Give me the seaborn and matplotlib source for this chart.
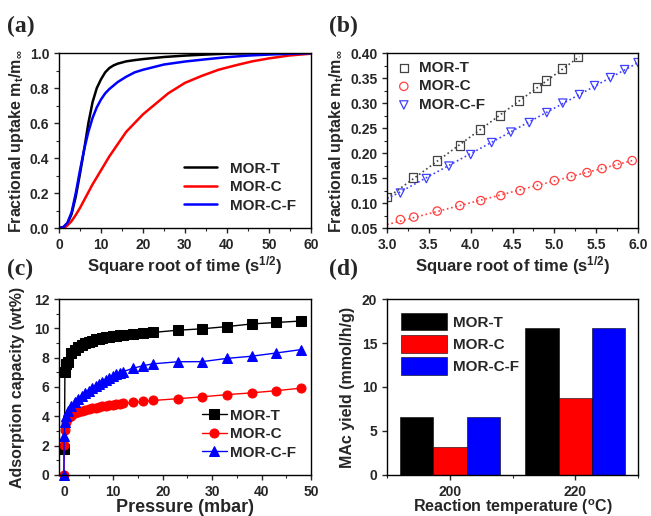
import numpy as np
import pandas as pd
import seaborn as sns
import matplotlib.pyplot as plt
from matplotlib.ticker import MultipleLocator

# (a) uptake curves
a_x_T = [0, 1, 2, 3, 4, 5, 6, 7, 8, 9, 10, 11, 12, 13, 14, 16, 18, 20, 25, 30, 35, 40, 50, 60]
a_y_T = [0, 0.005, 0.025, 0.08, 0.18, 0.31, 0.45, 0.6, 0.72, 0.8, 0.85, 0.89, 0.915, 0.93, 0.94,
         0.953, 0.96, 0.966, 0.978, 0.986, 0.992, 0.997, 1.0, 1.0]
a_x_C = [0, 1, 1.5, 2, 3, 4, 5, 6, 7, 8, 9, 10, 12, 14, 16, 18, 20, 23, 26, 30, 34, 38, 42, 46, 50, 55, 60]
a_y_C = [0, 0.002, 0.006, 0.015, 0.04, 0.075, 0.115, 0.16, 0.205, 0.25, 0.29, 0.33, 0.41, 0.48, 0.55,
         0.6, 0.65, 0.71, 0.77, 0.83, 0.87, 0.905, 0.93, 0.953, 0.97, 0.987, 0.997]
a_x_F = [0, 1, 2, 2.5, 3, 4, 5, 6, 7, 8, 9, 10, 11, 12, 13, 14, 16, 18, 20, 25, 30, 35, 40, 45, 50, 55, 60]
a_y_F = [0, 0.005, 0.03, 0.06, 0.09, 0.2, 0.33, 0.45, 0.55, 0.63, 0.69, 0.735, 0.77, 0.795, 0.815,
         0.835, 0.865, 0.89, 0.905, 0.935, 0.952, 0.965, 0.977, 0.986, 0.992, 0.996, 1.0]

# (b) initial uptake points + linear fits
b_x_T = [3.0, 3.31, 3.60, 3.87, 4.11, 4.35, 4.58, 4.79, 4.90, 5.09, 5.28]
b_y_T = [0.112, 0.151, 0.185, 0.215, 0.247, 0.275, 0.305, 0.331, 0.345, 0.369, 0.392]
b_x_C = [3.16, 3.32, 3.60, 3.87, 4.12, 4.36, 4.59, 4.80, 5.00, 5.20, 5.39, 5.57, 5.75, 5.93]
b_y_C = [0.067, 0.072, 0.084, 0.095, 0.105, 0.115, 0.125, 0.135, 0.145, 0.153, 0.161, 0.169, 0.177, 0.185]
b_x_F = [3.16, 3.47, 3.74, 4.0, 4.25, 4.48, 4.70, 4.91, 5.10, 5.30, 5.48, 5.67, 5.84, 6.0]
b_y_F = [0.12, 0.149, 0.174, 0.197, 0.221, 0.242, 0.261, 0.281, 0.30, 0.317, 0.335, 0.351, 0.367, 0.381]
fit_x_T = [3.0, 5.3]
fit_y_T = [0.11, 0.393]
fit_x_C = [3.0, 5.93]
fit_y_C = [0.057, 0.185]
fit_x_F = [3.0, 6.0]
fit_y_F = [0.108, 0.381]

# (c) isotherms
c_p_T = [0.1, 0.2, 0.5, 0.9, 1.5, 2.2, 2.9, 3.6, 4.3, 5.0, 5.7, 6.4, 7.1, 7.8, 8.5, 9.2, 9.9, 10.6,
         11.3, 12, 14, 16, 18, 23, 28, 33, 38, 43, 48]
c_y_T = [1.75, 7.0, 7.55, 7.7, 8.3, 8.55, 8.72, 8.87, 8.98, 9.08, 9.17, 9.24, 9.3, 9.36, 9.4, 9.44,
         9.47, 9.5, 9.53, 9.55, 9.6, 9.65, 9.72, 9.87, 9.97, 10.12, 10.3, 10.4, 10.5]
c_p = [0, 0.05, 0.2, 0.5, 0.9, 1.5, 2.2, 2.9, 3.6, 4.3, 5.0, 5.7, 6.4, 7.1, 7.8, 8.5, 9.2, 9.9, 10.6,
       11.3, 12, 14, 16, 18, 23, 28, 33, 38, 43, 48]
c_y_C = [0, 2.05, 3.05, 3.6, 3.86, 4.05, 4.2, 4.3, 4.38, 4.45, 4.5, 4.56, 4.6, 4.65, 4.68, 4.72, 4.75,
         4.78, 4.82, 4.85, 4.88, 4.95, 5.02, 5.08, 5.2, 5.33, 5.48, 5.6, 5.75, 5.92]
c_y_F = [0, 2.65, 3.6, 4.0, 4.35, 4.7, 5.0, 5.2, 5.4, 5.58, 5.75, 5.92, 6.08, 6.22, 6.36, 6.5, 6.62,
         6.75, 6.87, 6.97, 7.05, 7.28, 7.45, 7.58, 7.72, 7.73, 7.95, 8.1, 8.32, 8.55]

# (d) MAc yield
temps = ['200', '220']
samples = ['MOR-T', 'MOR-C', 'MOR-C-F']
yield_T = [6.6, 16.7]
yield_C = [3.2, 8.7]
yield_F = [6.6, 16.7]

sns.set_style('ticks')
plt.rcParams['font.family'] = ['Liberation Sans', 'DejaVu Sans']
plt.rcParams['font.weight'] = 'bold'
plt.rcParams['mathtext.fontset'] = 'custom'
plt.rcParams['mathtext.rm'] = 'Liberation Sans:bold'
plt.rcParams['mathtext.it'] = 'Liberation Sans:bold'
plt.rcParams['mathtext.bf'] = 'Liberation Sans:bold'
plt.rcParams['axes.linewidth'] = 1.0
plt.rcParams['xtick.direction'] = 'out'
plt.rcParams['ytick.direction'] = 'out'

cols = ['black', 'red', 'blue']
fig = plt.figure(figsize=(6.51, 5.16), dpi=100)
ax_a = fig.add_axes([0.0906, 0.558, 0.387, 0.339])
ax_b = fig.add_axes([0.5945, 0.558, 0.3856, 0.339])
ax_c = fig.add_axes([0.0906, 0.0795, 0.387, 0.341])
ax_d = fig.add_axes([0.5945, 0.0795, 0.3856, 0.341])

lab_fs = 11.5
tick_fs = 10


def style(ax):
    for s in ax.spines.values():
        s.set_visible(True)
        s.set_color('black')
    ax.tick_params(which='major', length=3.5, width=1, labelsize=tick_fs)
    ax.tick_params(which='minor', length=2, width=0.8)
    for t in ax.get_xticklabels() + ax.get_yticklabels():
        t.set_fontweight('bold')


# (a)
df_a = pd.concat([
    pd.DataFrame({'x': a_x_T, 'y': a_y_T, 's': 'MOR-T'}),
    pd.DataFrame({'x': a_x_C, 'y': a_y_C, 's': 'MOR-C'}),
    pd.DataFrame({'x': a_x_F, 'y': a_y_F, 's': 'MOR-C-F'}),
])
sns.lineplot(data=df_a, x='x', y='y', hue='s', palette=cols, linewidth=1.8, ax=ax_a)
ax_a.set_xlim(0, 60)
ax_a.set_ylim(0, 1.0)
ax_a.xaxis.set_major_locator(MultipleLocator(10))
ax_a.xaxis.set_minor_locator(MultipleLocator(5))
ax_a.yaxis.set_major_locator(MultipleLocator(0.2))
ax_a.yaxis.set_minor_locator(MultipleLocator(0.1))
ax_a.set_xlabel(r'Square root of time (s$^{1/2}$)', fontsize=12, fontweight='bold', labelpad=2)
ax_a.set_ylabel(r'Fractional uptake m$_t$/m$_{\infty}$', fontsize=lab_fs, fontweight='bold', labelpad=3)
ax_a.legend(loc='lower right', frameon=False, handlelength=2.2,
            borderaxespad=0.6, labelspacing=0.3, prop={'weight': 'bold', 'size': 11})
style(ax_a)

# (b)
mk = {'MOR-T': ('s', '#444444', fit_x_T, fit_y_T, b_x_T, b_y_T),
      'MOR-C': ('o', '#ff4040', fit_x_C, fit_y_C, b_x_C, b_y_C),
      'MOR-C-F': ('v', '#4040ff', fit_x_F, fit_y_F, b_x_F, b_y_F)}
for name, (m, c, fx, fy, px, py) in mk.items():
    sns.lineplot(x=fx, y=fy, color=c, linestyle=':', linewidth=1.2, ax=ax_b)
    sns.scatterplot(x=px, y=py, marker=m, s=36, facecolor='none', edgecolor=c,
                    linewidth=0.9, label=name, ax=ax_b)
ax_b.set_xlim(3.0, 6.0)
ax_b.set_ylim(0.05, 0.40)
ax_b.xaxis.set_major_locator(MultipleLocator(0.5))
ax_b.xaxis.set_minor_locator(MultipleLocator(0.25))
ax_b.yaxis.set_major_locator(MultipleLocator(0.05))
ax_b.yaxis.set_minor_locator(MultipleLocator(0.025))
ax_b.yaxis.set_major_formatter(plt.FormatStrFormatter('%.2f'))
ax_b.set_xlabel(r'Square root of time (s$^{1/2}$)', fontsize=12, fontweight='bold', labelpad=2)
ax_b.set_ylabel(r'Fractional uptake m$_t$/m$_{\infty}$', fontsize=lab_fs, fontweight='bold', labelpad=3)
ax_b.legend(loc='upper left', frameon=False, handletextpad=0.4, borderaxespad=0.1,
            handlelength=1.2, labelspacing=0.3, prop={'weight': 'bold', 'size': 11})
style(ax_b)

# (c)
c_series = [('MOR-T', c_p_T, c_y_T, 's'), ('MOR-C', c_p, c_y_C, 'o'), ('MOR-C-F', c_p, c_y_F, '^')]
for (name, px, py, m), c in zip(c_series, cols):
    sns.lineplot(x=px, y=py, color=c, marker=m, markersize=6.5, markeredgecolor=c,
                 linewidth=1.0, label=name, ax=ax_c, sort=False, clip_on=False)
ax_c.set_xlim(-1, 50)
ax_c.set_ylim(0, 12)
ax_c.xaxis.set_major_locator(MultipleLocator(10))
ax_c.xaxis.set_minor_locator(MultipleLocator(5))
ax_c.yaxis.set_major_locator(MultipleLocator(2))
ax_c.yaxis.set_minor_locator(MultipleLocator(1))
ax_c.set_xlabel('Pressure (mbar)', fontsize=13, fontweight='bold', labelpad=0)
ax_c.set_ylabel('Adsorption capacity (wt%)', fontsize=lab_fs, fontweight='bold', labelpad=6)
ax_c.legend(loc='lower right', frameon=False, handlelength=1.6, handletextpad=0.2,
            borderaxespad=0.6, labelspacing=0.3, prop={'weight': 'bold', 'size': 11})
style(ax_c)

# (d)
df_d = pd.DataFrame({
    'temp': temps * 3,
    'sample': [samples[0]] * 2 + [samples[1]] * 2 + [samples[2]] * 2,
    'val': yield_T + yield_C + yield_F,
})
sns.barplot(data=df_d, x='temp', y='val', hue='sample', palette=cols, width=0.8, saturation=1,
            edgecolor='black', linewidth=0.4, ax=ax_d)
ax_d.set_xlim(-0.5, 1.5)
ax_d.set_ylim(0, 20)
ax_d.set_xticks([0, 1])
ax_d.set_xticklabels(temps)
ax_d.xaxis.set_minor_locator(MultipleLocator(0.5))
ax_d.yaxis.set_major_locator(MultipleLocator(5))
ax_d.set_xlabel(r'Reaction temperature ($^o$C)', fontsize=11.5, fontweight='bold', labelpad=-1)
ax_d.set_ylabel('MAc yield (mmol/h/g)', fontsize=lab_fs, fontweight='bold', labelpad=5)
ax_d.legend(loc='upper left', frameon=False, handlelength=3.0, handleheight=1.4,
            handletextpad=0.4, borderaxespad=0.5, labelspacing=0.3,
            prop={'weight': 'bold', 'size': 11})
style(ax_d)

for t, x, y in [('(a)', 0.01, 0.948), ('(b)', 0.505, 0.948), ('(c)', 0.01, 0.478), ('(d)', 0.505, 0.478)]:
    fig.text(x, y, t, fontsize=17, fontweight='bold', family='Liberation Serif', va='center')

fig.savefig('out.png', dpi=100)
